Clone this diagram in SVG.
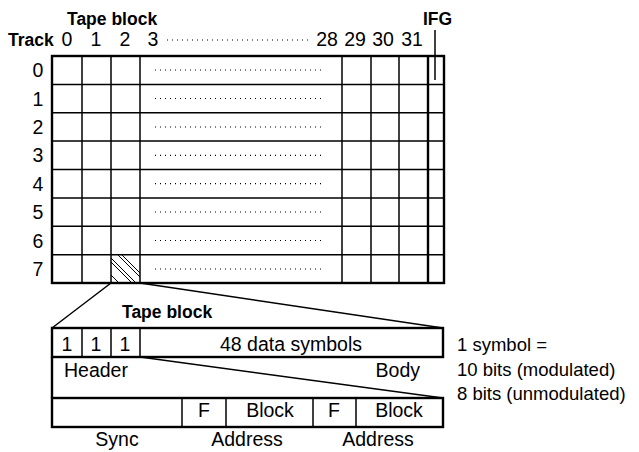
<svg xmlns="http://www.w3.org/2000/svg" width="639" height="452" viewBox="0 0 639 452">
<style>
text{font-family:"Liberation Sans",Arial,sans-serif;font-size:19.5px;fill:#000}
.b{font-weight:bold;font-size:17.5px}
.m{text-anchor:middle}
.e{text-anchor:end}
.n{font-size:18.5px}
.ln{stroke:#000;stroke-width:1.5;fill:none}
.tk{stroke:#000;stroke-width:2.4;fill:none}
.dot{stroke:#000;stroke-width:1.2;stroke-dasharray:1 4;fill:none}
.h{stroke:#000;stroke-width:1}
</style>
<defs>
<clipPath id="hc"><rect x="111" y="255" width="29" height="28"/></clipPath>
</defs>
<g id="headers">
<text class="b" x="67" y="25">Tape block</text>
<text class="b" x="423" y="25">IFG</text>
<text class="b" x="8" y="46">Track</text>
<text class="m" x="67" y="46">0</text>
<text class="m" x="96" y="46">1</text>
<text class="m" x="125" y="46">2</text>
<text class="m" x="153" y="46">3</text>
<line class="dot" x1="167" y1="40" x2="312" y2="40"/>
<text class="m" x="327" y="46">28</text>
<text class="m" x="355" y="46">29</text>
<text class="m" x="383" y="46">30</text>
<text class="m" x="412" y="46">31</text>
<line class="ln" x1="435" y1="30" x2="435" y2="80" stroke-width="1"/>
</g>
<g id="track-grid">
<rect class="tk" x="52" y="56" width="392" height="227"/>
<g class="ln">
<line x1="82" y1="56" x2="82" y2="283"/>
<line x1="111" y1="56" x2="111" y2="283"/>
<line x1="140" y1="56" x2="140" y2="283"/>
<line x1="342" y1="56" x2="342" y2="283"/>
<line x1="371" y1="56" x2="371" y2="283"/>
<line x1="399" y1="56" x2="399" y2="283"/>
<line x1="52" y1="84.4" x2="444" y2="84.4"/>
<line x1="52" y1="112.8" x2="444" y2="112.8"/>
<line x1="52" y1="141.1" x2="444" y2="141.1"/>
<line x1="52" y1="169.5" x2="444" y2="169.5"/>
<line x1="52" y1="198" x2="444" y2="198"/>
<line x1="52" y1="226.3" x2="444" y2="226.3"/>
<line x1="52" y1="254.7" x2="444" y2="254.7"/>
</g>
<line class="tk" x1="428" y1="56" x2="428" y2="283"/>
<g class="dot">
<line x1="155" y1="70" x2="325" y2="70"/>
<line x1="155" y1="98.5" x2="325" y2="98.5"/>
<line x1="155" y1="127" x2="325" y2="127"/>
<line x1="155" y1="155.3" x2="325" y2="155.3"/>
<line x1="155" y1="183.7" x2="325" y2="183.7"/>
<line x1="155" y1="212" x2="325" y2="212"/>
<line x1="155" y1="240.5" x2="325" y2="240.5"/>
<line x1="155" y1="269" x2="325" y2="269"/>
</g>
<g clip-path="url(#hc)" class="h">
<line x1="111" y1="262" x2="132" y2="283"/>
<line x1="111" y1="258" x2="136" y2="283"/>
<line x1="118" y1="255" x2="146" y2="283"/>
<line x1="122" y1="255" x2="150" y2="283"/>
<line x1="111" y1="275" x2="119" y2="283"/>
</g>
</g>
<g id="row-labels">
<text class="m" x="38" y="77">0</text>
<text class="m" x="38" y="105.5">1</text>
<text class="m" x="38" y="134">2</text>
<text class="m" x="38" y="162.3">3</text>
<text class="m" x="38" y="190.7">4</text>
<text class="m" x="38" y="219">5</text>
<text class="m" x="38" y="247.5">6</text>
<text class="m" x="38" y="276">7</text>
</g>
<g id="connectors">
<line class="ln" x1="111" y1="283" x2="52" y2="328"/>
<line class="ln" x1="140" y1="283" x2="443" y2="328"/>
<line class="ln" x1="140" y1="357" x2="443" y2="398"/>
</g>
<g id="tape-block">
<text class="b" x="122" y="318">Tape block</text>
<rect class="tk" x="52" y="328" width="391" height="29"/>
<line class="ln" x1="82" y1="328" x2="82" y2="357"/>
<line class="ln" x1="111" y1="328" x2="111" y2="357"/>
<line class="ln" x1="140" y1="328" x2="140" y2="357"/>
<text class="m" x="67" y="351">1</text>
<text class="m" x="96" y="351">1</text>
<text class="m" x="125" y="351">1</text>
<text class="m" x="291" y="351">48 data symbols</text>
<line class="tk" x1="52" y1="357" x2="52" y2="398"/>
<text x="64" y="377">Header</text>
<text class="e" x="420" y="377">Body</text>
</g>
<g id="header-detail">
<rect class="tk" x="52" y="398" width="391" height="29"/>
<line class="ln" x1="182" y1="398" x2="182" y2="427"/>
<line class="ln" x1="226" y1="398" x2="226" y2="427"/>
<line class="ln" x1="313" y1="398" x2="313" y2="427"/>
<line class="ln" x1="356" y1="398" x2="356" y2="427"/>
<text class="m" x="204" y="417">F</text>
<text class="m" x="270" y="417">Block</text>
<text class="m" x="334" y="417">F</text>
<text class="m" x="399" y="417">Block</text>
<text class="m" x="117" y="446">Sync</text>
<text class="m" x="247" y="446">Address</text>
<text class="m" x="378" y="446">Address</text>
</g>
<g id="notes">
<text class="n" x="457" y="351">1 symbol =</text>
<text class="n" x="457" y="376">10 bits (modulated)</text>
<text class="n" x="457" y="400">8 bits (unmodulated)</text>
</g>
</svg>
